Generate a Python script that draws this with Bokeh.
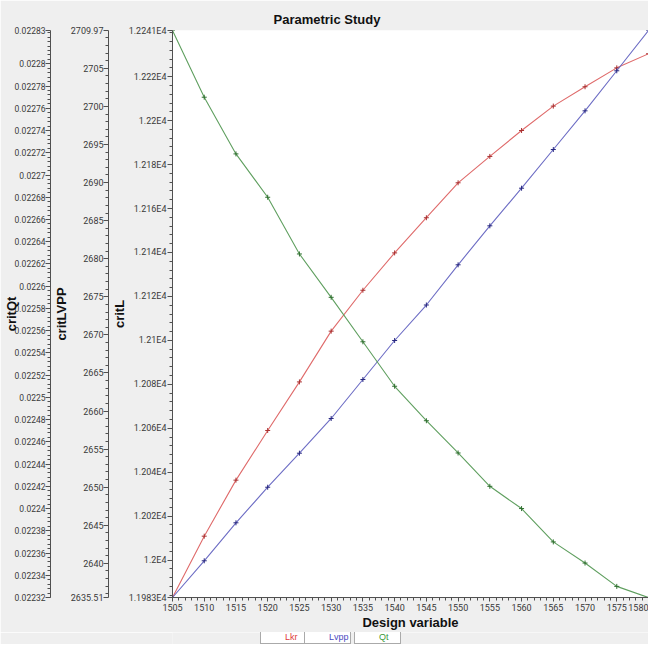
from bokeh.plotting import figure
from bokeh.layouts import column
from bokeh.models import Range1d, LinearAxis, FixedTicker, Legend, LegendItem
from bokeh.embed import file_html
from bokeh.resources import INLINE

# ---- data ----
design = [1505, 1510, 1515, 1520, 1525, 1530, 1535, 1540,
          1545, 1550, 1555, 1560, 1565, 1570, 1575, 1580]
lkr = [11983.0, 12010.9, 12036.4, 12059.0, 12081.1, 12104.2, 12122.8, 12139.8,
       12155.8, 12171.7, 12183.7, 12195.5, 12206.6, 12215.4, 12224.0, 12230.4]
lvpp = [2635.51, 2640.33, 2645.32, 2649.99, 2654.46, 2659.02, 2664.14, 2669.26,
        2673.92, 2679.20, 2684.32, 2689.26, 2694.34, 2699.42, 2704.68, 2709.97]
qt = [0.02283, 0.022770, 0.022719, 0.022680, 0.022629, 0.022590, 0.022550, 0.022510,
      0.022479, 0.022450, 0.022420, 0.022400, 0.022370, 0.022351, 0.022330, 0.02232]

critl_ticks = [11983, 12000, 12020, 12040, 12060, 12080, 12100, 12120,
               12140, 12160, 12180, 12200, 12220, 12241]
critl_labels = ["1.1983E4", "1.2E4", "1.202E4", "1.204E4", "1.206E4", "1.208E4", "1.21E4",
                "1.212E4", "1.214E4", "1.216E4", "1.218E4", "1.22E4", "1.222E4", "1.2241E4"]
lvpp_ticks = [2635.51, 2640, 2645, 2650, 2655, 2660, 2665, 2670, 2675, 2680,
              2685, 2690, 2695, 2700, 2705, 2709.97]
lvpp_labels = ["2635.51", "2640", "2645", "2650", "2655", "2660", "2665", "2670", "2675",
               "2680", "2685", "2690", "2695", "2700", "2705", "2709.97"]
qt_ticks = [0.02232, 0.02234, 0.02236, 0.02238, 0.0224, 0.02242, 0.02244, 0.02246,
            0.02248, 0.0225, 0.02252, 0.02254, 0.02256, 0.02258, 0.0226, 0.02262,
            0.02264, 0.02266, 0.02268, 0.0227, 0.02272, 0.02274, 0.02276, 0.02278,
            0.0228, 0.02283]
qt_labels = ["0.02232", "0.02234", "0.02236", "0.02238", "0.0224", "0.02242", "0.02244",
             "0.02246", "0.02248", "0.0225", "0.02252", "0.02254", "0.02256", "0.02258",
             "0.0226", "0.02262", "0.02264", "0.02266", "0.02268", "0.0227", "0.02272",
             "0.02274", "0.02276", "0.02278", "0.0228", "0.02283"]
x_ticks = design
series_names = ["Lkr", "Lvpp", "Qt"]

# ---- styling ----
BG = "#efefef"
FONT = "Liberation Sans"
TICKFONT = "Roboto"
line_cols = ["#df6a6a", "#6c6cc4", "#5f9f5f"]
mark_cols = ["#a83030", "#27277f", "#2f6f2f"]
text_cols = ["#e03a3a", "#4a4ac0", "#3a9a3a"]

p = figure(width=648, height=632, output_backend="svg", toolbar_location=None,
           x_range=Range1d(design[0], design[-1]),
           y_range=Range1d(critl_ticks[0], critl_ticks[-1]),
           min_border_left=0, min_border_right=0, min_border_top=30,
           min_border_bottom=35)
p.extra_y_ranges = {"lvpp": Range1d(lvpp_ticks[0], lvpp_ticks[-1]),
                    "qt": Range1d(qt_ticks[0], qt_ticks[-1])}
p.background_fill_color = "white"
p.border_fill_color = BG
p.outline_line_color = None
p.grid.visible = False

p.title.text = "Parametric Study"
p.title.align = "left"
p.title.offset = 101
p.title.text_font = FONT
p.title.text_font_size = "13px"
p.title.text_font_style = "bold"
p.title.text_color = "#111111"
p.title.standoff = 8


def style_axis(ax, label, standoff, label_standoff, tick_size="9px"):
    ax.axis_label = label
    ax.axis_label_text_font = FONT
    ax.axis_label_text_font_size = "13px"
    ax.axis_label_text_font_style = "bold"
    ax.axis_label_text_color = "#111111"
    ax.major_label_text_font = TICKFONT
    ax.major_label_text_font_size = tick_size
    ax.major_label_text_color = "#3a3a3a"
    ax.axis_line_color = "#505050"
    ax.major_tick_line_color = "#505050"
    ax.minor_tick_line_color = "#505050"
    ax.major_tick_in = 0
    ax.major_tick_out = 5
    ax.minor_tick_in = 0
    ax.minor_tick_out = 3
    ax.major_label_standoff = standoff
    ax.axis_label_standoff = label_standoff


# x axis
xax = p.xaxis[0]
style_axis(xax, "Design variable", 2, 1)
xax.major_tick_out = 4
xax.ticker = FixedTicker(ticks=x_ticks,
                         minor_ticks=list(range(design[0], design[-1] + 1)))

# critL (inner left)
lax = p.yaxis[0]
style_axis(lax, "critL", 1, -1)
lax.ticker = FixedTicker(ticks=critl_ticks,
                         minor_ticks=list(range(11984, 12241, 4)))
lax.major_label_overrides = dict(zip(critl_ticks, critl_labels))

# critLVPP
vax = LinearAxis(y_range_name="lvpp")
style_axis(vax, "critLVPP", 0, -1)
vax.ticker = FixedTicker(ticks=lvpp_ticks,
                         minor_ticks=list(range(2636, 2710)))
vax.major_label_overrides = dict(zip(lvpp_ticks, lvpp_labels))
p.add_layout(vax, "left")

# critQt
qax = LinearAxis(y_range_name="qt")
style_axis(qax, "critQt", 0, -7, "8.5px")
qax.ticker = FixedTicker(ticks=qt_ticks,
                         minor_ticks=[0.02232 + i * 0.000004 for i in range(128)])
qax.major_label_overrides = dict(zip(qt_ticks, qt_labels))
p.add_layout(qax, "left")

# series
series = [(lkr, "default"), (lvpp, "lvpp"), (qt, "qt")]
for i, (vals, rng) in enumerate(series):
    p.line(design, vals, line_color=line_cols[i], line_width=1.1, y_range_name=rng)
    p.scatter(design, vals, marker="cross", size=5,
              line_color=mark_cols[i], line_width=1, y_range_name=rng)

# ---- legend strip: three separately boxed entries ----
lp = figure(width=648, height=12, output_backend="svg", toolbar_location=None,
            x_range=Range1d(0, 1), y_range=Range1d(0, 1),
            x_axis_type=None, y_axis_type=None, min_border=0)
lp.background_fill_color = BG
lp.border_fill_color = BG
lp.outline_line_color = None

leg_x = [88, 132, 182]
for i, name in enumerate(series_names):
    r_line = lp.line([], [], line_color=line_cols[i], line_width=1.1)
    r_mark = lp.scatter([], [], marker="cross", size=5,
                        line_color=mark_cols[i], line_width=1)
    lg = Legend(items=[LegendItem(label=name, renderers=[r_line, r_mark])],
                location=(leg_x[i], 0), orientation="horizontal",
                border_line_color="#555555", border_line_width=1,
                background_fill_color="white", background_fill_alpha=1.0,
                label_text_color=text_cols[i], label_text_font=FONT,
                label_text_font_size="9px", label_height=9, glyph_height=9,
                glyph_width=20, label_standoff=3, padding=1, margin=0, spacing=0)
    lp.add_layout(lg, "center")

layout = column(p, lp, spacing=0)
open("out.html", "w").write(file_html(layout, INLINE))
